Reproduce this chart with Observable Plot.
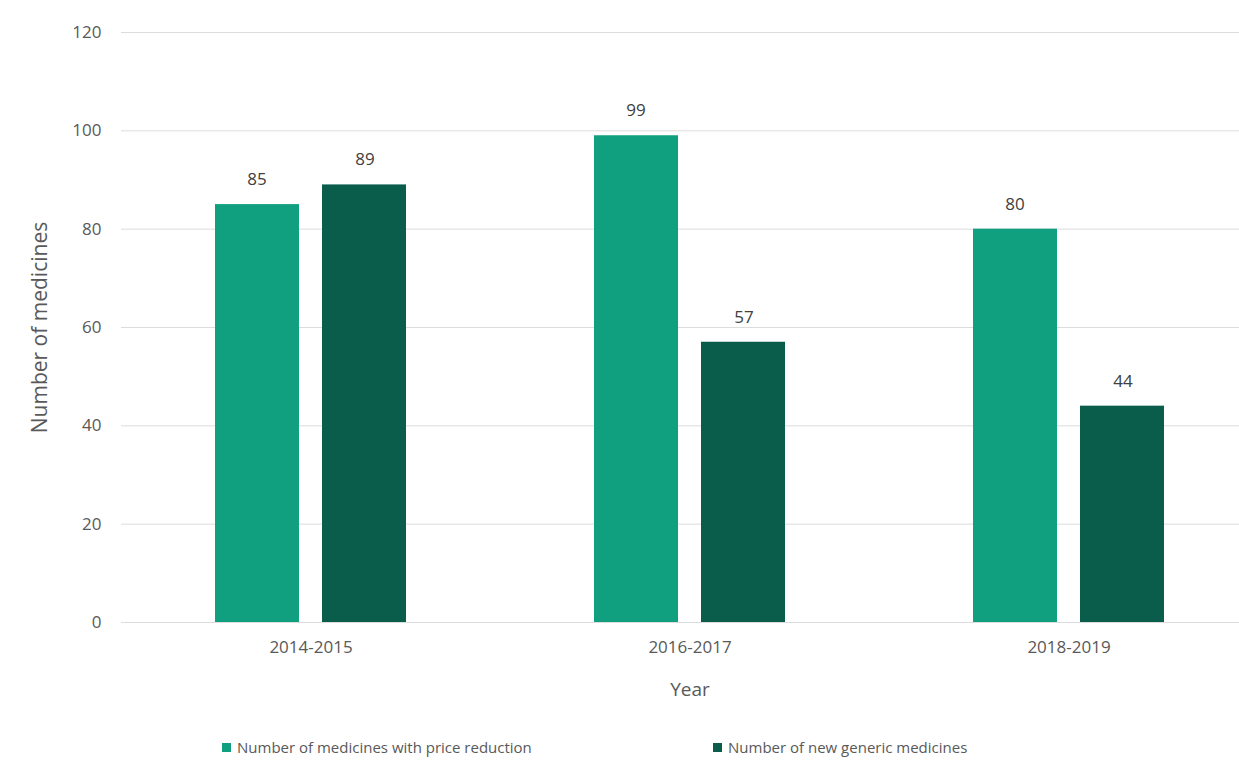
<!DOCTYPE html>
<html>
<head>
<meta charset="utf-8">
<script src="https://cdn.jsdelivr.net/npm/d3@7"></script>
<script src="https://cdn.jsdelivr.net/npm/@observablehq/plot@0.6"></script>
<style>
  html, body { margin: 0; padding: 0; background: #fff; }
  #wrap { position: relative; width: 1239px; height: 764px; font-family: "Open Sans", sans-serif; overflow: hidden; }
  .leg { position: absolute; top: 737px; display: flex; align-items: center; font-size: 15px; color: #595959; white-space: nowrap; }
  .sw { width: 9px; height: 9px; margin-right: 6px; }
</style>
</head>
<body>
<div id="wrap"></div>
<script>
const years = ["2014-2015", "2016-2017", "2018-2019"];
const seriesNames = ["Number of medicines with price reduction", "Number of new generic medicines"];
const priceReduction = [85, 99, 80];
const newGeneric = [89, 57, 44];
const colors = ["#10a07f", "#0a5d4a"];
const yTicks = [0, 20, 40, 60, 80, 100, 120];

const data = [];
years.forEach((yr, i) => {
  data.push({year: yr, series: seriesNames[0], value: priceReduction[i]});
  data.push({year: yr, series: seriesNames[1], value: newGeneric[i]});
});
const s0 = data.filter(d => d.series === seriesNames[0]);
const s1 = data.filter(d => d.series === seriesNames[1]);

const chart = Plot.plot({
  width: 1239,
  height: 720,
  marginLeft: 121,
  marginRight: -19,
  marginTop: 32,
  marginBottom: 98,
  style: {fontFamily: "'Open Sans', sans-serif", fontSize: "17px", color: "#595959", background: "#fff", overflow: "hidden"},
  x: {domain: years, padding: 0, label: null},
  y: {domain: [0, 120], axis: null},
  color: {domain: seriesNames, range: colors},
  marks: [
    Plot.gridY(yTicks, {stroke: "#dcdcdc", strokeOpacity: 1}),
    Plot.axisY(yTicks, {tickSize: 0, tickPadding: 20, label: null, fill: "#595959", fontSize: 17}),
    Plot.axisX({anchor: "bottom", tickSize: 0, tickPadding: 18, label: null, fill: "#595959", fontSize: 17}),
    Plot.barY(s0, {x: "year", y: "value", fill: "series", insetLeft: 94, insetRight: 201}),
    Plot.barY(s1, {x: "year", y: "value", fill: "series", insetLeft: 201, insetRight: 94}),
    Plot.text(s0, {x: "year", y: "value", text: d => String(d.value), dx: -54, dy: -25, fill: "#404040", fontSize: 17}),
    Plot.text(s1, {x: "year", y: "value", text: d => String(d.value), dx: 54, dy: -25, fill: "#404040", fontSize: 17}),
    Plot.text(["Year"], {frameAnchor: "bottom", x: () => years[1], dy: 73, fill: "#595959", fontSize: 19}),
    Plot.text(["Number of medicines"], {frameAnchor: "left", textAnchor: "middle", dx: -81, rotate: -90, fill: "#595959", fontSize: 21})
  ]
});
const wrap = document.getElementById("wrap");
wrap.appendChild(chart);

const legPos = [222, 713];
seriesNames.forEach((name, i) => {
  const item = document.createElement("div");
  item.className = "leg";
  item.style.left = legPos[i] + "px";
  const sw = document.createElement("span");
  sw.className = "sw";
  sw.style.background = colors[i];
  const t = document.createElement("span");
  t.textContent = name;
  item.appendChild(sw);
  item.appendChild(t);
  wrap.appendChild(item);
});
</script>
</body>
</html>
